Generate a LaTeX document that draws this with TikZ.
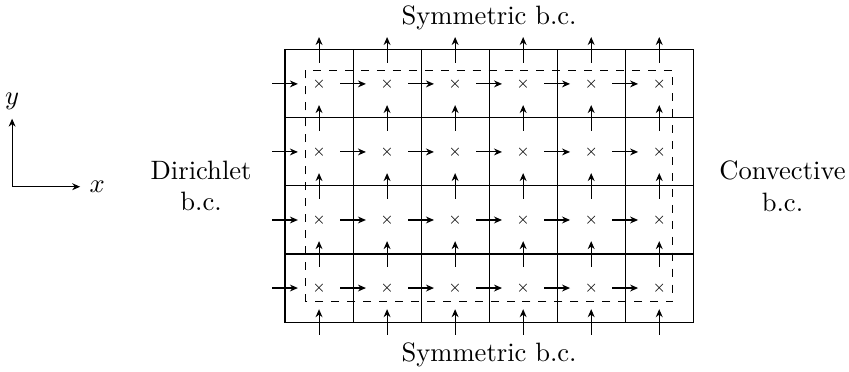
\documentclass[tikz,border=0pt]{standalone}
\usetikzlibrary{arrows.meta, math, positioning}
\tikzset{
  flux/.style={-{Stealth[length=3pt,width=2.6pt]}},
  cellpt/.style={inner sep=0pt, font=\tiny},
  bclabel/.style={align=center},
}
\begin{document}
\begin{tikzpicture}
\tikzmath{
\cw=0.9;
\nx=6;
\ny=4;
\Lx=\nx*\cw;
\Ly=\ny*\cw;
\ar=0.17;
\ins=0.27;
}
\useasboundingbox (-3.77,-0.66) rectangle (7.46,4.26);

% mesh
\draw (0,0) rectangle (\Lx,\Ly);
\foreach \i in {1,...,5} \draw (\i*\cw,0) -- (\i*\cw,\Ly);
\foreach \j in {1,...,3} \draw (0,\j*\cw) -- (\Lx,\j*\cw);

% control volume
\draw[dashed] (\ins,\ins) rectangle (\Lx-\ins,\Ly-\ins);

% cell centres and face fluxes
\foreach \i in {1,...,6}{
  \foreach \j in {1,...,4}{
    \node[cellpt] (c-\i-\j) at ({(\i-0.5)*\cw},{(\j-0.5)*\cw}) {$\times$};
    \draw[flux] ({(\i-1)*\cw-\ar},{(\j-0.5)*\cw}) -- +(2*\ar,0);
  }
  \foreach \j in {0,...,4}
    \draw[flux] ({(\i-0.5)*\cw},{\j*\cw-\ar}) -- +(0,2*\ar);
}

% boundary conditions
\node (bctop) at (\Lx/2,\Ly+0.42) {Symmetric b.c.};
\node (bcbot) at (\Lx/2,-0.44) {Symmetric b.c.};
\node[bclabel] (bcleft) at (-1.11,\Ly/2) {Dirichlet\\b.c.};
\node[bclabel] (bcright) at (\Lx+1.18,\Ly/2) {Convective\\b.c.};

% axes
\coordinate (o) at (-3.61,1.79);
\draw[flux] (o) -- ++(0.9,0) node[right] (xlab) {$x$};
\draw[flux] (o) -- ++(0,0.9) node[above] (ylab) {$y$};

\end{tikzpicture}
\end{document}
